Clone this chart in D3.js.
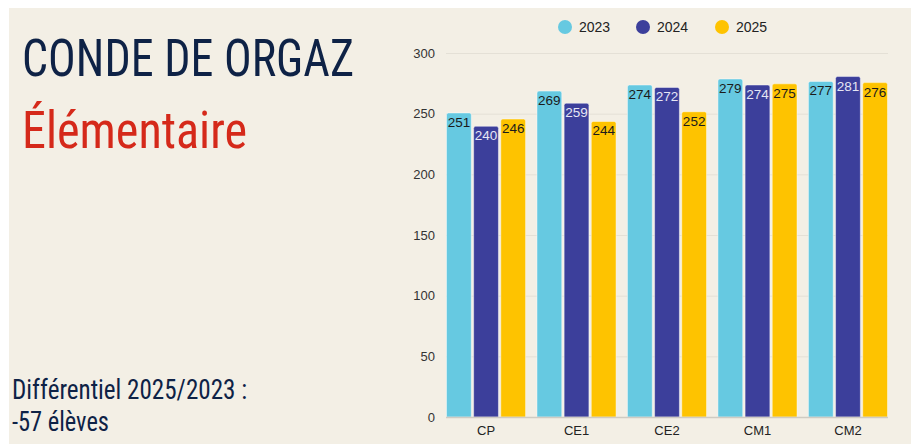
<!DOCTYPE html>
<html><head><meta charset="utf-8">
<script src="https://cdn.jsdelivr.net/npm/d3@7"></script>
<style>
html,body{margin:0;padding:0;background:#fff;}
svg{display:block;}
</style></head>
<body>
<svg id="c" width="911" height="447"></svg>
<script>
const categories = ["CP", "CE1", "CE2", "CM1", "CM2"];
const seriesNames = ["2023", "2024", "2025"];
const values2023 = [251, 269, 274, 279, 277];
const values2024 = [240, 259, 272, 274, 281];
const values2025 = [246, 244, 252, 275, 276];
const yTicks = [0, 50, 100, 150, 200, 250, 300];
const colors = ["#66c9e1", "#3c3f9b", "#fec300"];
const labelColors = ["#1b1b1b", "#e6e6f4", "#1b1b1b"];
const seriesValues = [values2023, values2024, values2025];

const svg = d3.select("#c");
svg.append("rect").attr("x", 9).attr("y", 8).attr("width", 902).attr("height", 436).attr("fill", "#f3efe5");

const condensed = "'Roboto Condensed','DejaVu Sans Condensed','Liberation Sans Narrow','DejaVu Sans',sans-serif";
function bigText(txt, x, y, size, color, width) {
  svg.append("text").attr("x", x).attr("y", y).attr("font-family", condensed)
    .attr("font-stretch", "condensed").attr("font-size", size).attr("fill", color)
    .attr("textLength", width).attr("lengthAdjust", "spacingAndGlyphs").text(txt);
}
bigText("CONDE DE ORGAZ", 22, 76, 52, "#0e2246", 332);
bigText("Élémentaire", 22, 148, 52, "#d5291a", 225);
bigText("Différentiel 2025/2023 :", 12, 399, 27, "#0e2246", 235);
bigText("-57 élèves", 12, 431, 27, "#0e2246", 97);

const sans = "'Liberation Sans',Arial,Helvetica,sans-serif";
const x0 = d3.scaleBand().domain(categories).range([446, 888]).paddingInner(0.115).paddingOuter(0);
const x1 = d3.scaleBand().domain(seriesNames).range([0, x0.bandwidth()]).paddingInner(0.05);
const y = d3.scaleLinear().domain([0, 300]).range([417, 53]);

// grid
const yAxis = d3.axisLeft(y).tickValues(yTicks).tickSize(-(888 - 446)).tickPadding(11);
const ga = svg.append("g").attr("transform", "translate(446,0)").call(yAxis);
ga.select(".domain").remove();
ga.selectAll(".tick line").attr("stroke", "#e4e0d6").attr("stroke-width", 1);
ga.selectAll(".tick text").attr("font-family", sans).attr("font-size", 13).attr("fill", "#333");

// bars
const groups = svg.append("g").selectAll("g").data(categories).join("g")
  .attr("transform", d => `translate(${x0(d)},0)`);

function barPath(x, yTop, w, yBot, r) {
  return `M${x},${yBot}V${yTop + r}Q${x},${yTop} ${x + r},${yTop}H${x + w - r}Q${x + w},${yTop} ${x + w},${yTop + r}V${yBot}Z`;
}

groups.each(function (cat, ci) {
  const g = d3.select(this);
  seriesNames.forEach((s, si) => {
    const v = seriesValues[si][ci];
    const bx = x1(s), bw = x1.bandwidth();
    g.append("path").attr("d", barPath(bx + 0.5, y(v) + 0.5, bw - 1, y(0), 2))
      .attr("fill", colors[si]).attr("stroke", "rgba(255,255,255,0.45)").attr("stroke-width", 1);
    g.append("text").attr("x", bx + bw / 2).attr("y", y(v) + 14.5).attr("text-anchor", "middle")
      .attr("font-family", sans).attr("font-size", 13.5).attr("fill", labelColors[si]).text(v);
  });
});

// baseline
svg.append("line").attr("x1", 446).attr("x2", 888).attr("y1", y(0) + 0.5).attr("y2", y(0) + 0.5)
  .attr("stroke", "#cfcbc2").attr("stroke-width", 1.5);

// x axis
const xAxis = d3.axisBottom(x0).tickSize(0).tickPadding(9);
const gx = svg.append("g").attr("transform", `translate(0,${y(0)})`).call(xAxis);
gx.select(".domain").remove();
gx.selectAll(".tick text").attr("font-family", sans).attr("font-size", 13).attr("fill", "#222");

// legend
const legendX = [565, 643, 722];
const lg = svg.append("g");
seriesNames.forEach((s, i) => {
  lg.append("circle").attr("cx", legendX[i]).attr("cy", 27).attr("r", 7).attr("fill", colors[i]);
  lg.append("text").attr("x", legendX[i] + 14).attr("y", 32).attr("font-family", sans)
    .attr("font-size", 14).attr("fill", "#222").text(s);
});
</script>
</body></html>
